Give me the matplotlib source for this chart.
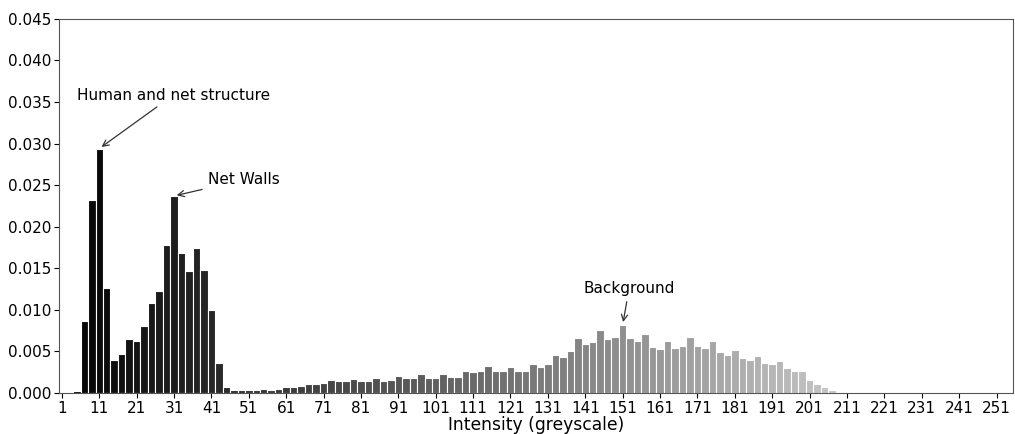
import matplotlib
matplotlib.use("Agg")
import matplotlib.pyplot as plt
import numpy as np

# bin centres (width 2) and normalised counts
intensity = np.arange(1, 256, 2)
freq_low = [0.0, 0.0, 0.0002, 0.0087, 0.0232, 0.0294, 0.0126, 0.0040, 0.0047, 0.0065,
            0.0062, 0.0081, 0.0108, 0.0123, 0.0178, 0.0237, 0.0168, 0.0147, 0.0174, 0.0148,
            0.0100, 0.0036, 0.0007, 0.00036, 0.00036, 0.00036, 0.00036, 0.00048, 0.00036, 0.00048]
freq_mid = [0.00076, 0.00076, 0.00088, 0.00108, 0.00108, 0.0012, 0.00152, 0.0014, 0.0014, 0.00168,
            0.0014, 0.0014, 0.0018, 0.00148, 0.0016, 0.0021, 0.0018, 0.0018, 0.00225, 0.0018,
            0.0018, 0.00225, 0.0019, 0.0019, 0.0026, 0.0025, 0.0026, 0.0032, 0.0026, 0.0026,
            0.0031, 0.0026, 0.0027, 0.00345, 0.0031, 0.00345, 0.00457, 0.00437, 0.005, 0.00665]
freq_high = [0.0059, 0.0061, 0.0076, 0.0065, 0.0067, 0.0082, 0.00665, 0.0063, 0.0071, 0.0055,
             0.0053, 0.0063, 0.0054, 0.0056, 0.0067, 0.0056, 0.0054, 0.0062, 0.0049, 0.00457,
             0.0052, 0.0042, 0.0040, 0.0045, 0.0036, 0.00345, 0.00385, 0.0030, 0.0026, 0.0026,
             0.00156, 0.00108, 0.00072, 0.00036, 0.00012, 0.00005]
freq = np.array(freq_low + freq_mid + freq_high)
freq = np.concatenate([freq, np.zeros(len(intensity) - len(freq))])

fig = plt.figure(figsize=(10.15, 4.34), dpi=100)
ax = fig.add_axes([0.058, 0.0945, 0.94, 0.862])

colors = [(v / 255 * 0.95,) * 3 for v in intensity]
ax.bar(intensity, freq, width=2, color=colors, edgecolor="white", linewidth=0.8)

ax.set_xlim(0.2, 255.4)
ax.set_ylim(0, 0.045)
ax.set_xticks(np.arange(1, 256, 10))
ax.set_yticks(np.arange(0, 0.0451, 0.005))
ax.yaxis.set_major_formatter(matplotlib.ticker.FormatStrFormatter("%.3f"))
ax.tick_params(labelsize=11, length=3.5, pad=2)
for s in ax.spines.values():
    s.set_color("#555555")
ax.set_xlabel("Intensity (greyscale)", fontsize=12.3, labelpad=0)

arrow = dict(arrowstyle="->", color="#333333", lw=0.9)
ax.annotate("Human and net structure", xy=(11, 0.0294), xytext=(5, 0.0353),
            fontsize=11, arrowprops=arrow)
ax.annotate("Net Walls", xy=(31, 0.0237), xytext=(40, 0.0251),
            fontsize=11, arrowprops=arrow)
ax.annotate("Background", xy=(151, 0.0082), xytext=(140.5, 0.0120),
            fontsize=11, arrowprops=arrow)

fig.savefig("out.png", dpi=100)
